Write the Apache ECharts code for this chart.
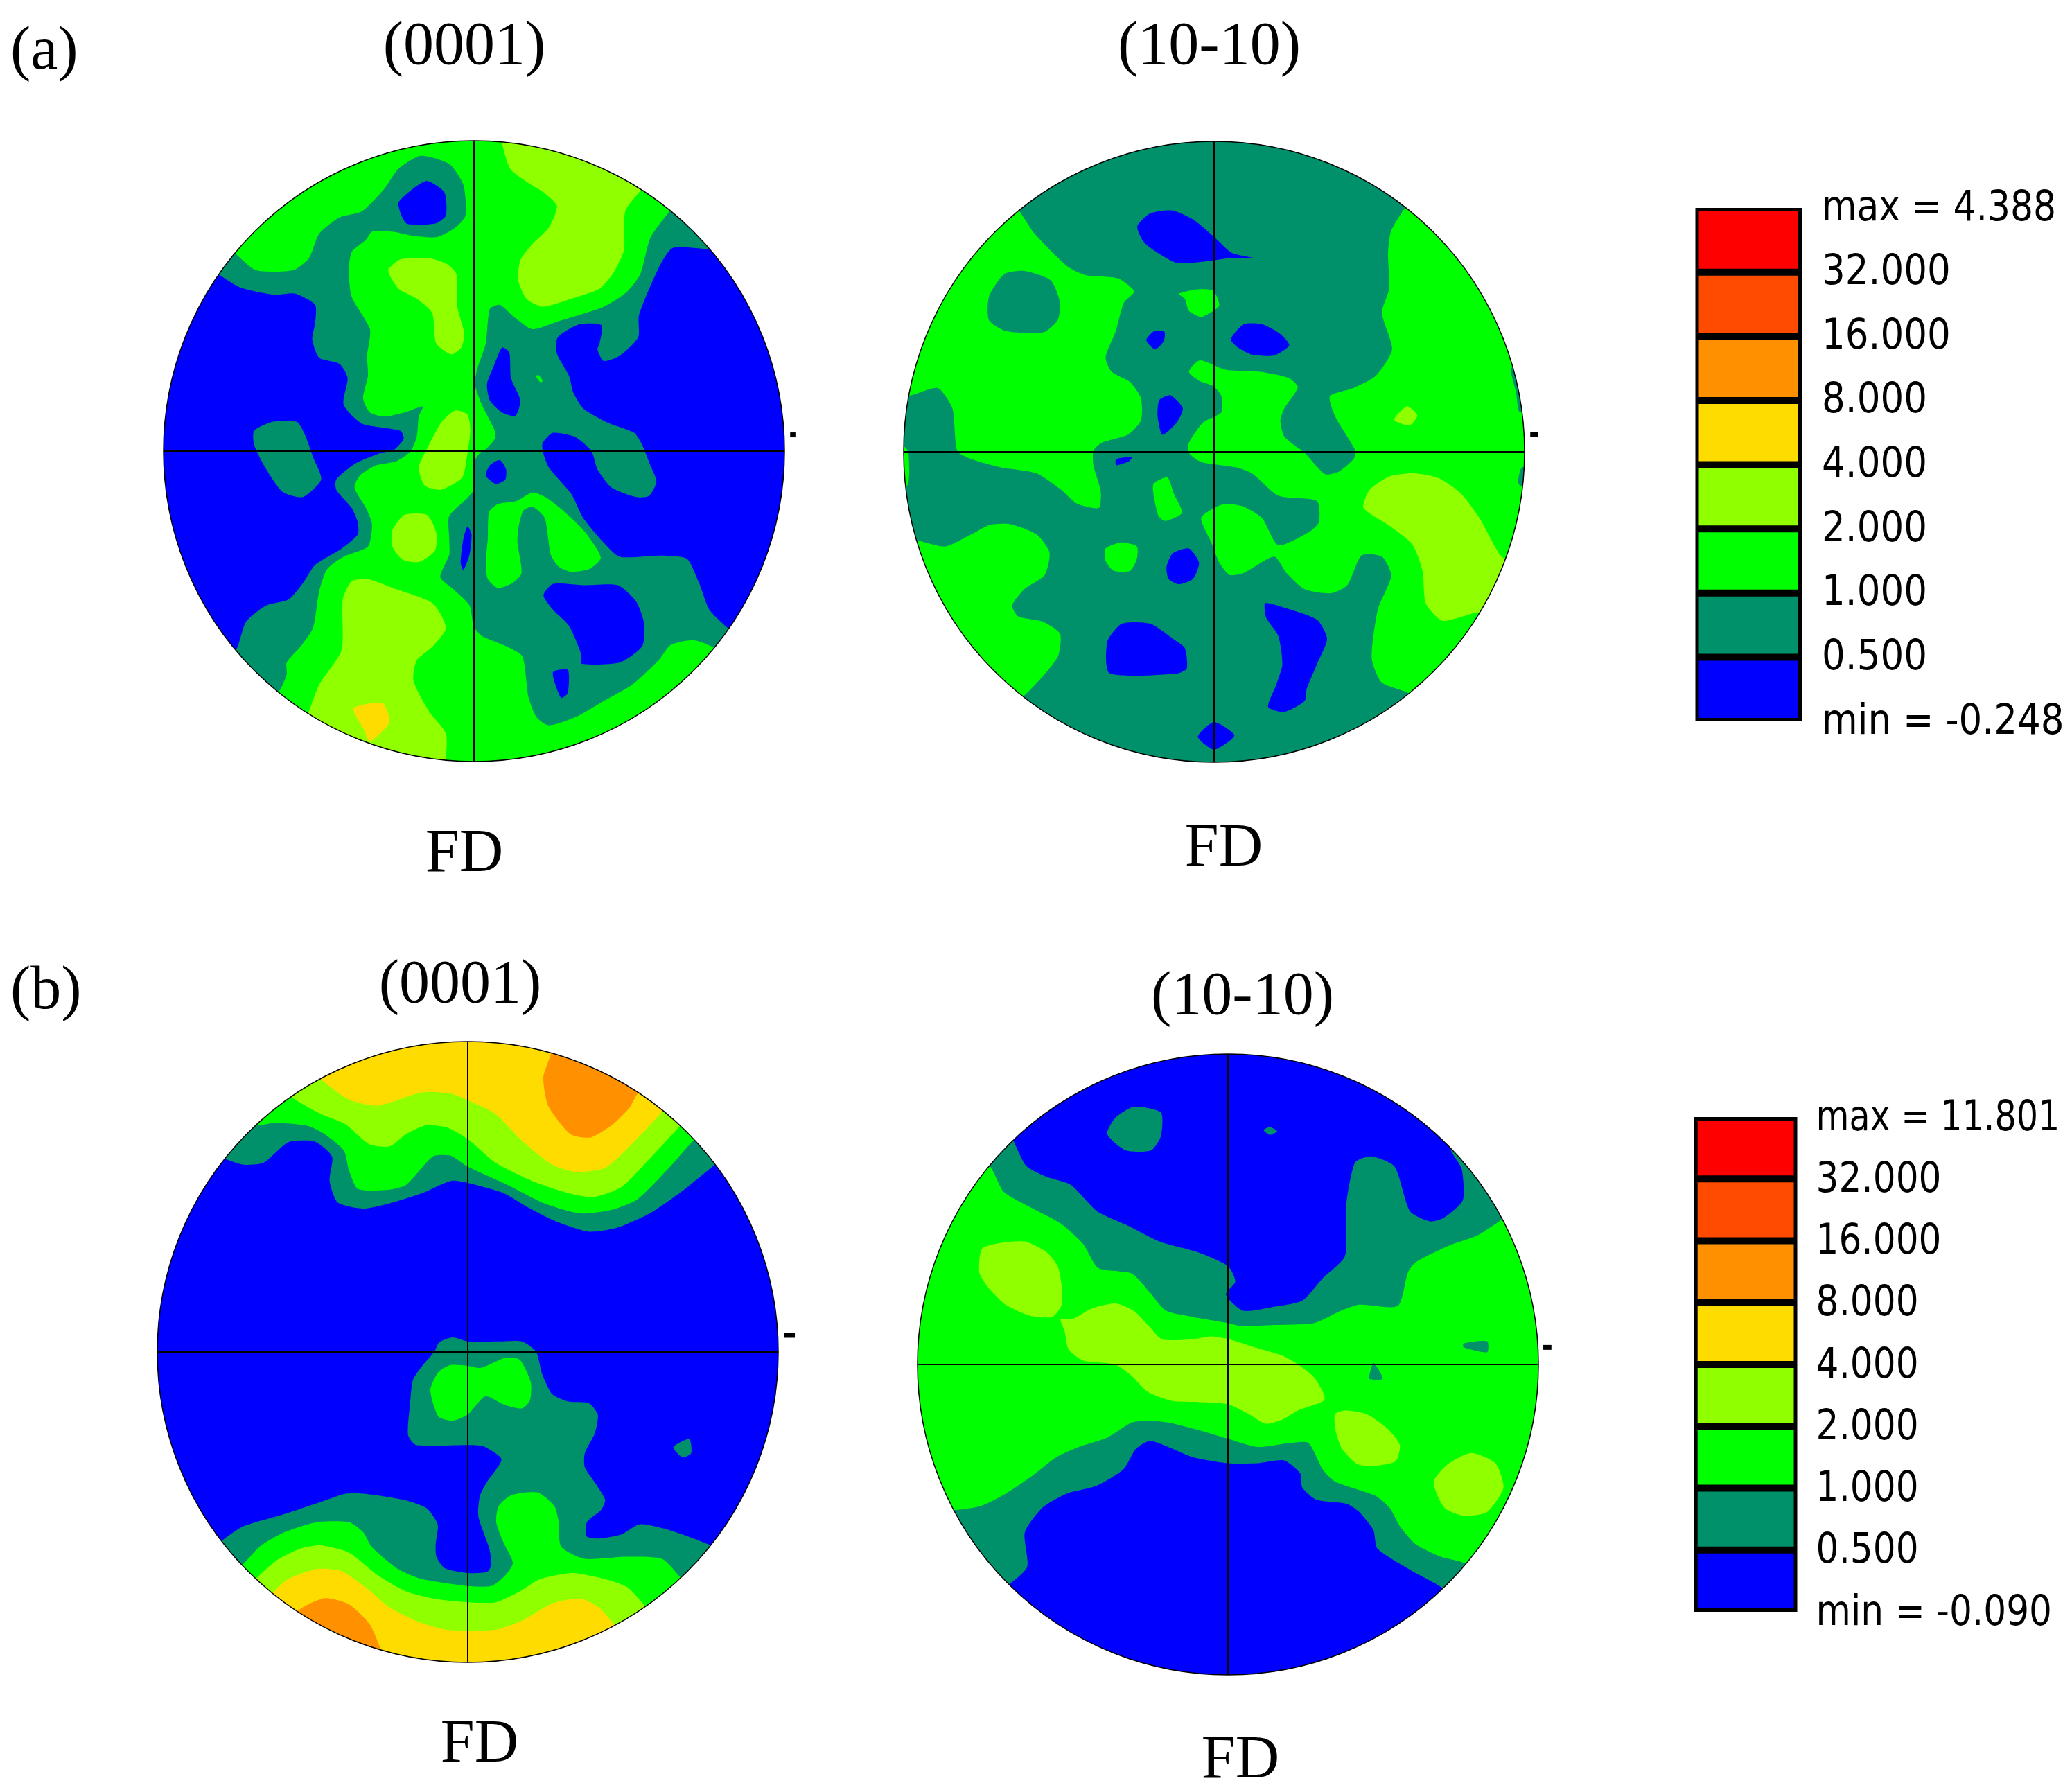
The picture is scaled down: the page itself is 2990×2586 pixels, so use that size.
<!DOCTYPE html>
<html>
<head>
<meta charset="utf-8">
<style>html,body{margin:0;padding:0;background:#fff}#c{width:2990px;height:2586px}</style>
<script src="https://cdn.jsdelivr.net/npm/echarts@6/dist/echarts.min.js"></script>
</head>
<body>
<div id="c"></div>
<script>
// Contour level colours
const BLUE='#0000FF', TEAL='#00916B', GREEN='#00FF00', LIME='#90FF00', YELLOW='#FFDC00', ORANGE='#FF9000', REDORANGE='#FF4B00', RED='#FF0000';
const legendColors=[RED,REDORANGE,ORANGE,YELLOW,LIME,GREEN,TEAL,BLUE];
const legendLabelsA=['max = 4.388','32.000','16.000','8.000','4.000','2.000','1.000','0.500','min = -0.248'];
const legendLabelsB=['max = 11.801','32.000','16.000','8.000','4.000','2.000','1.000','0.500','min = -0.090'];

// Contour regions of each pole figure, painted in order.
const regionsA1=[
[TEAL,[[250,735],[295,713],[355,713],[375,745],[395,800],[415,855],[370,898],[320,885],[280,830],[250,770]]],
[TEAL,[[165,352],[215,382],[300,400],[350,397],[400,425],[400,470],[393,510],[410,555],[460,570],[480,605],[470,670],[515,717],[610,735],[618,755],[592,783],[560,790],[500,815],[452,855],[452,880],[490,925],[505,960],[505,990],[465,1025],[400,1065],[370,1110],[335,1150],[280,1165],[230,1205],[205,1275],[150,1320],[169,1407],[791,1665],[1413,1407],[1460,1260],[1415,1220],[1370,1175],[1345,1110],[1315,1050],[1255,1042],[1150,1045],[1110,1010],[1060,950],[1030,890],[975,825],[960,785],[960,765],[985,740],[1040,750],[1080,785],[1095,830],[1130,875],[1190,898],[1222,895],[1240,860],[1225,820],[1205,770],[1185,740],[1120,715],[1060,680],[1035,640],[1025,600],[995,545],[997,505],[1050,473],[1105,475],[1100,520],[1095,535],[1110,563],[1150,550],[1195,505],[1197,450],[1245,335],[1280,285],[1370,288],[1430,288],[1413,163],[791,-95],[169,163],[110,320]]],
[BLUE,[[605,175],[640,140],[675,120],[718,148],[722,205],[695,225],[625,225]]],
[BLUE,[[860,530],[878,542],[882,605],[905,660],[893,698],[860,690],[830,660],[823,620],[840,575]]],
[BLUE,[[820,845],[830,820],[855,807],[870,830],[868,855],[845,866]]],
[BLUE,[[775,970],[785,990],[780,1040],[765,1078],[758,1060],[765,1000]]],
[BLUE,[[962,1140],[985,1112],[1060,1115],[1145,1115],[1190,1155],[1210,1210],[1205,1265],[1150,1305],[1055,1308],[1055,1285],[1025,1215],[985,1175]]],
[BLUE,[[985,1330],[1022,1323],[1022,1380],[1005,1392]]],
[GREEN,[[205,300],[255,340],[345,340],[385,310],[410,250],[460,210],[515,195],[570,140],[605,90],[660,58],[730,78],[765,130],[770,205],[745,235],[700,258],[640,255],[590,245],[540,245],[525,265],[490,295],[483,340],[490,405],[535,485],[528,550],[530,600],[518,655],[535,690],[570,700],[620,690],[665,675],[655,700],[650,750],[635,785],[600,810],[550,820],[510,845],[497,875],[525,925],[540,965],[530,1020],[470,1045],[430,1075],[410,1130],[395,1220],[365,1265],[330,1305],[330,1335],[310,1378],[260,1420],[791,1665],[1413,1407],[1425,1310],[1380,1268],[1330,1250],[1275,1262],[1245,1300],[1180,1360],[1110,1400],[1040,1440],[975,1460],[945,1440],[925,1390],[910,1290],[870,1265],[810,1240],[790,1215],[780,1165],[740,1125],[708,1095],[730,1040],[730,1000],[730,945],[775,900],[790,880],[790,815],[805,790],[820,780],[842,755],[842,735],[810,670],[793,620],[800,580],[820,520],[830,435],[855,425],[890,455],[935,485],[1000,465],[1050,450],[1110,430],[1165,395],[1200,350],[1225,260],[1272,195],[1310,150],[791,-95],[169,163],[150,250]]],
[GREEN,[[828,935],[850,915],[895,908],[935,887],[970,900],[1020,940],[1065,985],[1103,1047],[1075,1075],[1030,1082],[1000,1070],[980,1040],[965,950],[935,922],[912,932],[900,975],[898,1010],[908,1085],[885,1110],[850,1122],[825,1100],[820,1060],[825,1000]]],
[GREEN,[[943,600],[950,598],[960,612],[955,616]]],
[LIME,[[860,25],[880,90],[925,125],[965,150],[995,182],[975,235],[935,275],[905,315],[900,365],[920,410],[960,430],[1030,410],[1100,385],[1135,345],[1160,290],[1163,195],[1200,145],[1240,100],[1050,-30],[860,-30]]],
[LIME,[[580,340],[610,313],[680,310],[725,325],[748,350],[750,430],[767,495],[760,530],[735,547],[698,520],[688,445],[650,410],[605,385]]],
[LIME,[[655,825],[675,780],[710,715],[745,685],[775,695],[782,735],[775,790],[762,850],[710,880],[670,870]]],
[LIME,[[590,980],[620,942],[675,942],[698,985],[695,1030],[655,1058],[615,1052],[590,1020]]],
[LIME,[[385,1425],[410,1360],[465,1275],[468,1150],[490,1105],[530,1100],[600,1125],[690,1160],[722,1220],[690,1265],[650,1300],[642,1350],[680,1425],[722,1480],[722,1545],[722,1620],[360,1500]]],
[YELLOW,[[495,1418],[565,1405],[583,1452],[535,1500],[520,1470]]]
];

const regionsA2=[
[GREEN,[[308,195],[345,250],[425,330],[470,352],[550,360],[590,392],[565,420],[545,490],[520,555],[535,590],[580,615],[607,655],[607,710],[575,745],[510,765],[490,785],[490,820],[508,885],[503,925],[450,915],[410,880],[350,840],[260,825],[190,805],[155,785],[143,680],[107,630],[40,648],[0,650],[-93,500],[165,165],[280,160]]],
[TEAL,[[233,405],[270,350],[320,342],[385,365],[408,420],[402,463],[367,493],[275,490],[233,463]]],
[GREEN,[[-20,770],[25,775],[35,790],[32,870],[-20,870]]],
[GREEN,[[1258,185],[1222,245],[1215,300],[1218,385],[1200,445],[1225,535],[1185,600],[1130,630],[1072,650],[1085,700],[1135,785],[1130,805],[1095,835],[1060,842],[1010,790],[960,750],[950,710],[960,680],[993,628],[970,605],[900,590],[815,585],[752,562],[725,590],[750,612],[785,625],[805,650],[805,690],[760,715],[725,765],[725,790],[755,812],[840,825],[880,840],[945,895],[1040,908],[1045,960],[1020,985],[945,1017],[905,950],[860,922],[815,915],[787,925],[755,950],[780,1010],[800,1060],[825,1090],[860,1085],[935,1045],[965,1085],[1010,1125],[1075,1135],[1115,1115],[1150,1042],[1200,1045],[1223,1092],[1190,1175],[1175,1295],[1200,1355],[1268,1382],[1300,1420],[1409,1409],[1667,787],[1409,165],[1290,150]]],
[TEAL,[[1518,580],[1530,640],[1540,690],[1600,640]]],
[TEAL,[[1535,860],[1545,825],[1600,830],[1600,880],[1540,870]]],
[GREEN,[[55,1005],[125,1020],[190,990],[235,967],[285,965],[350,990],[382,1035],[370,1090],[320,1125],[290,1165],[305,1192],[365,1205],[408,1235],[403,1290],[365,1340],[317,1390],[280,1420],[165,1409],[-40,1100],[0,1000]]],
[GREEN,[[700,398],[745,387],[785,390],[800,425],[790,437],[755,455],[725,440],[715,410]]],
[GREEN,[[637,868],[672,850],[688,890],[708,937],[668,957],[650,945]]],
[GREEN,[[520,1025],[560,1010],[597,1020],[597,1050],[580,1080],[540,1080],[520,1055]]],
[BLUE,[[598,232],[630,200],[685,193],[735,215],[787,258],[830,297],[885,310],[830,310],[770,318],[695,322],[630,285],[610,265]]],
[BLUE,[[620,512],[640,490],[665,492],[663,515],[642,535]]],
[BLUE,[[828,510],[860,473],[905,473],[950,497],[972,525],[935,550],[880,548],[845,530]]],
[BLUE,[[652,660],[680,648],[710,680],[695,715],[660,745],[648,700]]],
[BLUE,[[546,805],[585,800],[578,810],[546,820]]],
[BLUE,[[670,1070],[685,1037],[725,1025],[750,1060],[735,1100],[700,1113],[675,1100]]],
[BLUE,[[524,1255],[560,1210],[630,1210],[690,1250],[715,1270],[720,1320],[695,1333],[530,1332]]],
[BLUE,[[912,1160],[935,1163],[1040,1200],[1065,1247],[1040,1310],[1015,1370],[1010,1400],[960,1427],[920,1415],[940,1360],[955,1310],[945,1240],[915,1195]]],
[BLUE,[[747,1488],[787,1452],[837,1485],[787,1520]]],
[LIME,[[1155,925],[1170,880],[1220,847],[1280,840],[1340,852],[1395,890],[1440,950],[1490,1040],[1530,1080],[1480,1200],[1440,1182],[1350,1203],[1308,1160],[1300,1080],[1275,1015],[1220,970]]],
[LIME,[[1230,708],[1262,675],[1287,698],[1268,722]]]
];

const regionsB1=[
[TEAL,[[195,310],[240,325],[290,320],[350,270],[415,268],[458,305],[452,365],[472,418],[535,433],[600,420],[680,395],[750,365],[792,370],[880,395],[940,430],[1010,465],[1090,490],[1160,480],[1240,445],[1320,390],[1397,328],[1440,300],[1414,164],[792,-94],[170,164],[150,280]]],
[GREEN,[[265,228],[320,222],[400,230],[440,250],[487,290],[500,340],[522,385],[595,387],[640,375],[690,320],[710,303],[750,303],[792,330],[890,375],[980,420],[1070,445],[1150,435],[1210,410],[1290,330],[1345,268],[1390,230],[1300,100],[792,-94],[280,100],[230,190]]],
[LIME,[[360,160],[430,200],[490,225],[550,275],[600,280],[640,250],[690,228],[745,235],[792,262],[860,320],[950,365],[1040,395],[1100,405],[1170,380],[1240,310],[1312,232],[1350,190],[1200,60],[792,-94],[400,60],[330,130]]],
[YELLOW,[[430,115],[500,165],[570,180],[680,147],[750,150],[800,170],[860,200],[930,270],[1000,325],[1060,343],[1130,333],[1200,270],[1270,195],[1300,160],[1100,20],[792,-70],[500,30],[400,85]]],
[ORANGE,[[997,50],[978,110],[990,180],[1045,250],[1095,258],[1150,225],[1190,185],[1210,150],[1240,120],[1100,0],[1000,-10]]],
[TEAL,[[710,785],[722,762],[755,750],[792,760],[870,760],[925,760],[960,785],[975,840],[1000,890],[1040,908],[1090,912],[1112,940],[1105,985],[1080,1035],[1080,1070],[1110,1115],[1130,1150],[1120,1175],[1085,1205],[1085,1240],[1115,1245],[1170,1235],[1215,1210],[1290,1225],[1390,1262],[1430,1290],[1414,1408],[792,1666],[170,1408],[140,1290],[190,1248],[240,1215],[340,1185],[430,1155],[490,1135],[540,1135],[635,1150],[690,1170],[718,1210],[713,1260],[715,1290],[735,1318],[792,1330],[840,1327],[850,1310],[845,1270],[818,1190],[822,1140],[840,1105],[875,1050],[830,1018],[792,1015],[665,1015],[645,990],[650,915],[657,855],[680,820]]],
[TEAL,[[1298,1020],[1337,1000],[1342,1035],[1320,1045]]],
[GREEN,[[700,880],[720,835],[750,818],[792,820],[825,825],[885,800],[920,805],[947,860],[945,905],[925,925],[880,915],[835,895],[792,940],[755,955],[720,945]]],
[GREEN,[[240,1308],[280,1265],[340,1230],[420,1205],[500,1205],[535,1230],[555,1265],[620,1320],[680,1345],[792,1362],[850,1362],[885,1335],[903,1305],[880,1255],[862,1205],[868,1165],[900,1138],[965,1132],[1005,1165],[1015,1200],[1022,1265],[1080,1295],[1180,1290],[1270,1295],[1315,1340],[1360,1385],[1200,1560],[792,1666],[380,1560],[200,1350]]],
[LIME,[[275,1340],[320,1300],[380,1270],[430,1262],[500,1280],[570,1335],[640,1375],[720,1395],[792,1402],[860,1402],[920,1375],[970,1345],[1050,1330],[1130,1345],[1185,1365],[1228,1410],[1270,1450],[1100,1600],[792,1666],[450,1600],[240,1380]]],
[YELLOW,[[312,1378],[350,1345],[420,1320],[480,1325],[540,1365],[600,1415],[670,1450],[740,1470],[860,1470],[930,1445],[1000,1405],[1070,1393],[1115,1415],[1155,1460],[1190,1500],[1000,1620],[792,1666],[500,1620],[280,1410]]],
[ORANGE,[[378,1420],[440,1392],[500,1407],[550,1455],[578,1518],[590,1560],[350,1460]]]
];

const regionsB2=[
[TEAL,[[258,230],[290,293],[340,320],[400,340],[465,405],[540,440],[620,480],[710,505],[787,540],[805,578],[782,610],[825,650],[900,640],[970,625],[1020,570],[1075,515],[1078,390],[1100,285],[1140,270],[1197,295],[1235,405],[1285,430],[1320,420],[1365,378],[1362,300],[1335,250],[1380,220],[1662,782],[1409,1404],[1350,1370],[1315,1332],[1240,1290],[1155,1235],[1145,1190],[1110,1145],[1080,1125],[1005,1115],[970,1085],[965,1050],[925,1018],[860,1025],[787,1025],[700,1010],[640,985],[595,970],[560,990],[530,1040],[465,1080],[390,1100],[330,1135],[287,1195],[293,1280],[250,1322],[200,1350],[165,1404],[-93,782],[165,160],[230,190]]],
[TEAL,[[490,215],[510,175],[555,148],[622,162],[622,220],[598,255],[535,255]]],
[TEAL,[[875,205],[890,198],[908,208],[890,217]]],
[GREEN,[[203,297],[235,357],[300,395],[375,435],[430,485],[468,545],[550,558],[595,605],[635,650],[700,665],[787,680],[820,688],[900,685],[1000,680],[1065,650],[1110,635],[1205,638],[1230,555],[1250,530],[1330,490],[1400,465],[1462,425],[1500,400],[1662,782],[1450,1250],[1400,1300],[1372,1272],[1310,1255],[1250,1225],[1210,1180],[1185,1135],[1150,1105],[1050,1070],[1020,1040],[985,975],[940,975],[860,985],[787,965],[720,945],[640,925],[590,920],[550,925],[490,962],[420,985],[365,1010],[300,1060],[240,1100],[180,1130],[117,1140],[60,1130],[-93,782],[100,400],[150,250]]],
[TEAL,[[1367,730],[1425,725],[1425,752],[1367,740]]],
[TEAL,[[1145,777],[1168,817],[1135,817],[1140,790]]],
[LIME,[[175,555],[182,497],[235,482],[290,480],[340,505],[368,540],[378,590],[378,635],[355,665],[300,662],[240,635],[195,590]]],
[LIME,[[375,670],[405,670],[450,645],[510,632],[555,650],[590,685],[625,720],[700,720],[745,713],[790,720],[860,742],[920,760],[960,782],[1000,815],[1025,868],[960,895],[920,918],[880,928],[840,905],[787,880],[720,875],[650,872],[590,850],[550,810],[510,782],[430,772],[395,745],[385,700]]],
[LIME,[[1050,905],[1075,895],[1130,905],[1180,940],[1210,980],[1200,1020],[1145,1032],[1105,1027],[1068,990],[1053,950]]],
[LIME,[[1293,1072],[1325,1030],[1385,1000],[1445,1025],[1465,1085],[1425,1145],[1370,1155],[1320,1135]]]
];

// Each disc: its regions, background level, reading-frame centre/radius, and place on the page.
const discs=[
 {regions:regionsA1,base:BLUE, rx:791,ry:785,rr:764, px:684, py:651, pr:448, tick:[[1569,745],[1582,745]]},
 {regions:regionsA2,base:TEAL, rx:787,ry:787,rr:764, px:1752,py:652, pr:448, tick:[[1565,745],[1585,745]]},
 {regions:regionsB1,base:BLUE, rx:792,ry:786,rr:764, px:675, py:1951,pr:448, tick:[[1570,745],[1597,745]]},
 {regions:regionsB2,base:BLUE, rx:787,ry:782,rr:764, px:1772,py:1969,pr:448, tick:[[1563,740],[1583,740]]}
];
const legends=[
 {labels:legendLabelsA,left:2446.5,top:300,width:153.5,height:741,stretch:0.885,stretchMax:0.865,gap:29,dy:2},
 {labels:legendLabelsB,left:2444.7,top:1612,width:148.8,height:714,stretch:0.862,stretchMax:0.82,gap:27,dy:3}
];
const captions=[
 ['(a)',15,76,'left'],['(0001)',670,69,'center'],['(10-10)',1745,69,'center'],
 ['FD',670,1234,'center'],['FD',1766,1226,'center'],
 ['(b)',15,1432,'left'],['(0001)',664,1423,'center'],['(10-10)',1793,1440,'center'],
 ['FD',692,2519,'center'],['FD',1790,2542,'center']
];

const grids=[],xAxes=[],yAxes=[],series=[];
discs.forEach((d,i)=>{
  grids.push({left:d.px-d.pr,top:d.py-d.pr,width:2*d.pr,height:2*d.pr,containLabel:false});
  xAxes.push({type:'value',gridIndex:i,min:d.rx-d.rr,max:d.rx+d.rr,show:false});
  yAxes.push({type:'value',gridIndex:i,min:d.ry-d.rr,max:d.ry+d.rr,inverse:true,show:false});
  const clip=()=>({type:'circle',shape:{cx:d.px,cy:d.py,r:d.pr}});
  series.push({
    type:'custom',coordinateSystem:'cartesian2d',xAxisIndex:i,yAxisIndex:i,silent:true,z:2,clip:false,
    data:d.regions.map((r,k)=>[k]),
    renderItem:(p,api)=>{
      const r=d.regions[api.value(0)];
      return {type:'polygon',shape:{points:r[1].map(q=>api.coord(q)),smooth:0.22},style:{fill:r[0]},clipPath:clip()};
    }
  });
  series.push({
    type:'custom',coordinateSystem:'cartesian2d',xAxisIndex:i,yAxisIndex:i,silent:true,z:1,clip:false,
    data:[[d.rx,d.ry]],
    renderItem:(p,api)=>{
      const c=api.coord([d.rx,d.ry]),e=api.coord([d.rx+d.rr,d.ry]);
      return {type:'circle',shape:{cx:c[0],cy:c[1],r:e[0]-c[0]},style:{fill:d.base}};
    }
  });
  series.push({
    type:'custom',coordinateSystem:'cartesian2d',xAxisIndex:i,yAxisIndex:i,silent:true,z:3,clip:false,
    data:[[d.rx,d.ry]],
    renderItem:(p,api)=>{
      const c=api.coord([d.rx,d.ry]),e=api.coord([d.rx+d.rr,d.ry]),R=e[0]-c[0];
      const a=api.coord(d.tick[0]),b=api.coord(d.tick[1]);
      return {type:'group',children:[
        {type:'circle',shape:{cx:c[0],cy:c[1],r:R},style:{fill:'none',stroke:'#000',lineWidth:1.5}},
        {type:'line',shape:{x1:c[0]-R,y1:c[1],x2:c[0]+R,y2:c[1]},style:{stroke:'#000',lineWidth:2}},
        {type:'line',shape:{x1:c[0],y1:c[1]-R,x2:c[0],y2:c[1]+R},style:{stroke:'#000',lineWidth:2}},
        {type:'line',shape:{x1:a[0],y1:a[1],x2:b[0],y2:b[1]},style:{stroke:'#000',lineWidth:7}}
      ]};
    }
  });
});
legends.forEach((l,j)=>{
  const i=discs.length+j;
  grids.push({left:l.left,top:l.top,width:l.width,height:l.height,containLabel:false});
  xAxes.push({type:'value',gridIndex:i,min:0,max:1,show:false});
  yAxes.push({type:'value',gridIndex:i,min:0,max:legendColors.length,inverse:true,show:false});
  series.push({
    type:'custom',coordinateSystem:'cartesian2d',xAxisIndex:i,yAxisIndex:i,silent:true,z:1,clip:false,
    data:[[0]],
    renderItem:(p,api)=>{
      const a=api.coord([0,0]),b=api.coord([1,legendColors.length]);
      return {type:'rect',shape:{x:a[0],y:a[1],width:b[0]-a[0],height:b[1]-a[1]},style:{fill:'#000'}};
    }
  });
  series.push({
    type:'custom',coordinateSystem:'cartesian2d',xAxisIndex:i,yAxisIndex:i,silent:true,z:2,clip:false,
    data:legendColors.map((c,k)=>[k]),
    renderItem:(p,api)=>{
      const k=api.value(0),a=api.coord([0,k]),b=api.coord([1,k+1]);
      return {type:'rect',shape:{x:a[0]+5,y:a[1]+5,width:b[0]-a[0]-10,height:b[1]-a[1]-10},style:{fill:legendColors[k]}};
    }
  });
  series.push({
    type:'custom',coordinateSystem:'cartesian2d',xAxisIndex:i,yAxisIndex:i,silent:true,z:2,clip:false,
    data:l.labels.map((c,k)=>[k]),
    renderItem:(p,api)=>{
      const k=api.value(0),a=api.coord([1,k]);
      return {type:'text',x:a[0]+l.gap,y:a[1]+l.dy,scaleX:k===0?l.stretchMax:l.stretch,
        style:{text:l.labels[k],fill:'#000',font:'60px "DejaVu Sans"',align:'left',verticalAlign:'middle'}};
    }
  });
});

const chart=echarts.init(document.getElementById('c'),null,{renderer:'canvas',width:2990,height:2586});
chart.setOption({
  animation:false,backgroundColor:'#fff',tooltip:{show:false},legend:{show:false},
  grid:grids,xAxis:xAxes,yAxis:yAxes,series:series,
  graphic:captions.map(t=>({type:'text',x:t[1],y:t[2],silent:true,
    style:{text:t[0],fill:'#000',font:'88px "Liberation Serif"',align:t[3],verticalAlign:'middle'}}))
});
</script>
</body>
</html>
